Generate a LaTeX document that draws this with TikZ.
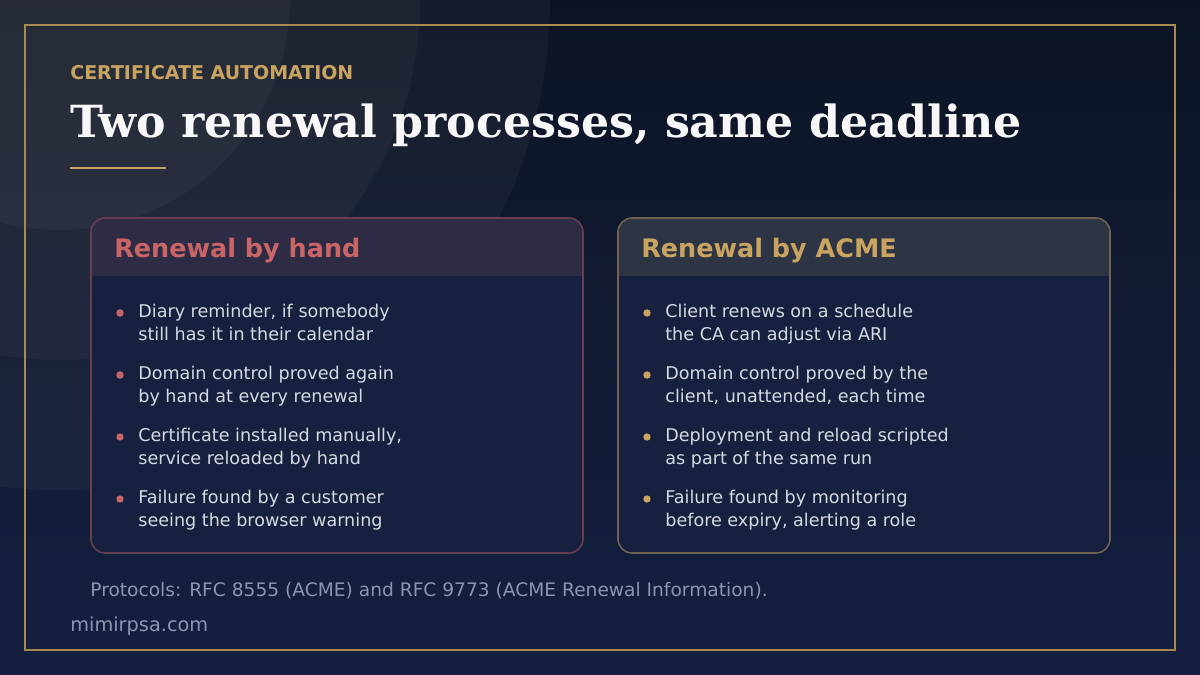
\documentclass[tikz,border=0pt]{standalone}
\usepackage{fontspec}
\setmainfont{DejaVu Sans}
\newfontfamily\titlefont{DejaVu Serif}
\usetikzlibrary{positioning}
\definecolor{bgtop}{HTML}{0C1424}
\definecolor{bgbot}{HTML}{152041}
\definecolor{gold}{HTML}{C9A461}
\definecolor{frame}{HTML}{A88A50}
\definecolor{rose}{HTML}{C96566}
\definecolor{cardbg}{HTML}{17213F}
\definecolor{handhd}{HTML}{2E2B44}
\definecolor{acmehd}{HTML}{2D3444}
\definecolor{txt}{HTML}{D5D9E2}
\definecolor{muted}{HTML}{8C95AD}
\tikzset{
  item/.style={anchor=north west,align=left,text=txt,font=\fontsize{10}{13.2}\selectfont,inner sep=0pt},
  dot/.style={circle,fill=#1,inner sep=0pt,minimum size=4.2pt},
  head/.style={anchor=west,font=\fontsize{14.5}{16}\selectfont\bfseries,text=#1,inner sep=0pt}
}
\begin{document}
\begin{tikzpicture}[x=0.02cm,y=-0.02cm]
	%background
	\shade[top color=bgtop,bottom color=bgbot] (0,0) rectangle (1200,675);
	\useasboundingbox (0,0) rectangle (1200,675);
	\begin{scope}
		\clip (0,0) rectangle (1200,675);
		\fill[white!85!orange,opacity=0.04] (60,0) circle (490);
		\fill[white!85!orange,opacity=0.04] (60,0) circle (360);
		\fill[white!85!orange,opacity=0.04] (60,0) circle (230);
	\end{scope}
	\draw[frame,line width=1.6pt] (25,25) rectangle (1175,650);

	%title block
	\node[anchor=base west,inner sep=0pt,text=gold,font=\fontsize{10.8}{12}\selectfont\bfseries] (kicker) at (70,80) {CERTIFICATE AUTOMATION};
	\node[anchor=base west,inner sep=0pt,text=white!94!gray,font=\titlefont\fontsize{25.2}{28}\selectfont\bfseries] (title) at (70,138) {Two renewal processes, same deadline};
	\draw[gold,line width=1.4pt] (70,168) -- (166,168);

	%cards
	\fill[cardbg,rounded corners=8pt] (91,218) rectangle (583,553);
	\fill[handhd,rounded corners=8pt] (91,218) rectangle (583,276);
	\fill[handhd] (91,250) rectangle (583,276);
	\draw[rose!45!cardbg,line width=0.9pt,rounded corners=8pt] (91,218) rectangle (583,553);
	%
	\fill[cardbg,rounded corners=8pt] (618,218) rectangle (1110,553);
	\fill[acmehd,rounded corners=8pt] (618,218) rectangle (1110,276);
	\fill[acmehd] (618,250) rectangle (1110,276);
	\draw[gold!50!cardbg,line width=0.9pt,rounded corners=8pt] (618,218) rectangle (1110,553);

	%headers
	\node[head=rose] (handhead) at (114,251) {Renewal by hand};
	\node[head=gold] (acmehead) at (641,251) {Renewal by ACME};

	%items
	\foreach \y/\t in {304/{Diary reminder, if somebody\\still has it in their calendar},
	                   366/{Domain control proved again\\by hand at every renewal},
	                   428/{Certificate installed manually,\\service reloaded by hand},
	                   490/{Failure found by a customer\\seeing the browser warning}}{
		\node[dot=rose] at (120,\y+9) {};
		\node[item] at (138,\y) {\t};
	}
	\foreach \y/\t in {304/{Client renews on a schedule\\the CA can adjust via ARI},
	                   366/{Domain control proved by the\\client, unattended, each time},
	                   428/{Deployment and reload scripted\\as part of the same run},
	                   490/{Failure found by monitoring\\before expiry, alerting a role}}{
		\node[dot=gold] at (647,\y+9) {};
		\node[item] at (665,\y) {\t};
	}

	%footer
	\node[anchor=west,inner sep=0pt,text=muted,font=\fontsize{10.6}{12}\selectfont] (note) at (90,591) {Protocols: RFC 8555 (ACME) and RFC 9773 (ACME Renewal Information).};
	\node[anchor=west,inner sep=0pt,text=muted,font=\fontsize{11}{12}\selectfont] (site) at (70,626) {mimirpsa.com};
\end{tikzpicture}
\end{document}
